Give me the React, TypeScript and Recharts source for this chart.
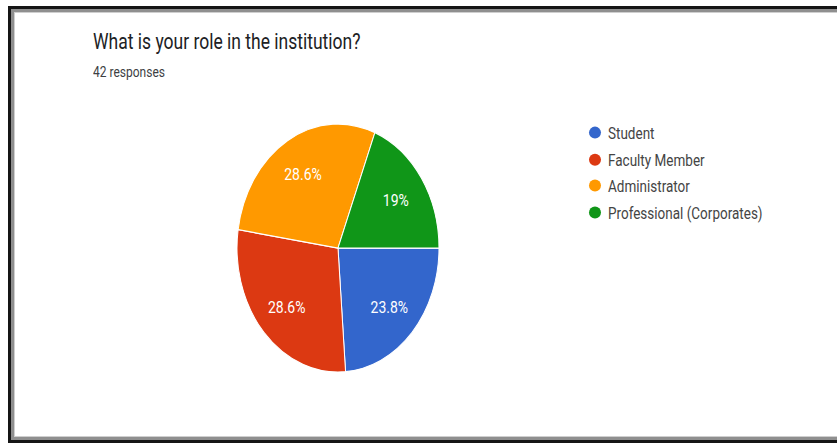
import React from "react";
import { PieChart, Pie, Cell, Legend } from "recharts";

const roles = ["Student", "Faculty Member", "Administrator", "Professional (Corporates)"];
const responses = [10, 12, 12, 8];
const roleColors = ["#3366cc", "#dc3912", "#ff9900", "#109618"];
const title = "What is your role in the institution?";
const subtitle = "42 responses";

// the reference screenshot is stretched vertically, so the chart is drawn flat and scaled up
const STRETCH = 1.228;
const W = 837;
const H = 445;
const RADIAN = Math.PI / 180;

const data = roles.map((name, i) => ({ name, value: responses[i] }));

const formatPercent = (p: number) => {
  const s = (p * 100).toFixed(1);
  return (s.endsWith(".0") ? s.slice(0, -2) : s) + "%";
};

const renderLabel = ({ cx, cy, midAngle, percent }: any) => {
  const r = 70;
  const x = cx + r * Math.cos(-midAngle * RADIAN);
  const y = cy + r * Math.sin(-midAngle * RADIAN);
  return (
    <text
      x={x}
      y={y}
      fill="#fff"
      textAnchor="middle"
      dominantBaseline="central"
      fontSize={14}
      fontFamily="Roboto"
    >
      {formatPercent(percent)}
    </text>
  );
};

// keep the legend in data order (recharts sorts it by name otherwise)
const renderLegend = ({ payload }: any) => {
  const items = [...(payload || [])].sort(
    (a: any, b: any) => roles.indexOf(a.value) - roles.indexOf(b.value)
  );
  return (
    <div style={{ fontFamily: "Roboto", fontSize: 13.5, color: "#444" }}>
      {items.map((entry: any) => (
        <div
          key={entry.value}
          style={{ display: "flex", alignItems: "center", height: 21.6, whiteSpace: "nowrap" }}
        >
          <svg width={14} height={12} style={{ marginRight: 6 }}>
            <ellipse cx={7} cy={6} rx={6} ry={6 / STRETCH} fill={entry.color} />
          </svg>
          <span>{entry.value}</span>
        </div>
      ))}
    </div>
  );
};

export default function App() {
  return (
    <div
      style={{
        position: "absolute",
        left: 0,
        top: 0,
        width: W,
        height: H,
        overflow: "hidden",
        background: "#fff",
      }}
    >
      <div
        style={{
          position: "absolute",
          left: 0,
          top: 0,
          width: W,
          height: H / STRETCH,
          transform: `scaleY(${STRETCH})`,
          transformOrigin: "0 0",
        }}
      >
        <div
          style={{
            position: "absolute",
            left: 93,
            top: 26,
            fontFamily: "Roboto",
            fontSize: 17.5,
            lineHeight: "17.5px",
            color: "#202124",
            whiteSpace: "nowrap",
          }}
        >
          {title}
        </div>
        <div
          style={{
            position: "absolute",
            left: 93,
            top: 52.6,
            fontFamily: "Roboto",
            fontSize: 12,
            lineHeight: "12px",
            color: "#3c4043",
            whiteSpace: "nowrap",
          }}
        >
          {subtitle}
        </div>
        <PieChart
          width={W}
          height={Math.round(H / STRETCH)}
          margin={{ top: 0, right: 0, bottom: 0, left: 0 }}
        >
          <Pie
            data={data}
            dataKey="value"
            nameKey="name"
            cx={338}
            cy={202}
            outerRadius={101}
            startAngle={0}
            endAngle={-360}
            stroke="#fff"
            strokeWidth={1}
            label={renderLabel}
            labelLine={false}
            isAnimationActive={false}
          >
            {data.map((d, i) => (
              <Cell key={d.name} fill={roleColors[i]} />
            ))}
          </Pie>
          <Legend
            layout="vertical"
            verticalAlign="top"
            align="right"
            content={renderLegend}
            wrapperStyle={{ left: 588, top: 97.5, width: 240, right: "auto" }}
          />
        </PieChart>
      </div>
      {/* photo frame round the screenshot */}
      <div
        style={{
          position: "absolute",
          left: 8,
          top: 6,
          width: 900,
          height: 431,
          borderTop: "3px solid #151515",
          borderLeft: "3px solid #151515",
          borderBottom: "3px solid #151515",
          pointerEvents: "none",
        }}
      >
        <div
          style={{
            position: "absolute",
            left: 0,
            top: 0,
            right: 0,
            bottom: 0,
            borderTop: "3px solid #8f8f8f",
            borderLeft: "3px solid #8f8f8f",
            borderBottom: "3px solid #8f8f8f",
            boxShadow: "inset 1px 1px 0 #cfcfcf, inset 0 -1px 0 #cfcfcf",
          }}
        />
      </div>
    </div>
  );
}
